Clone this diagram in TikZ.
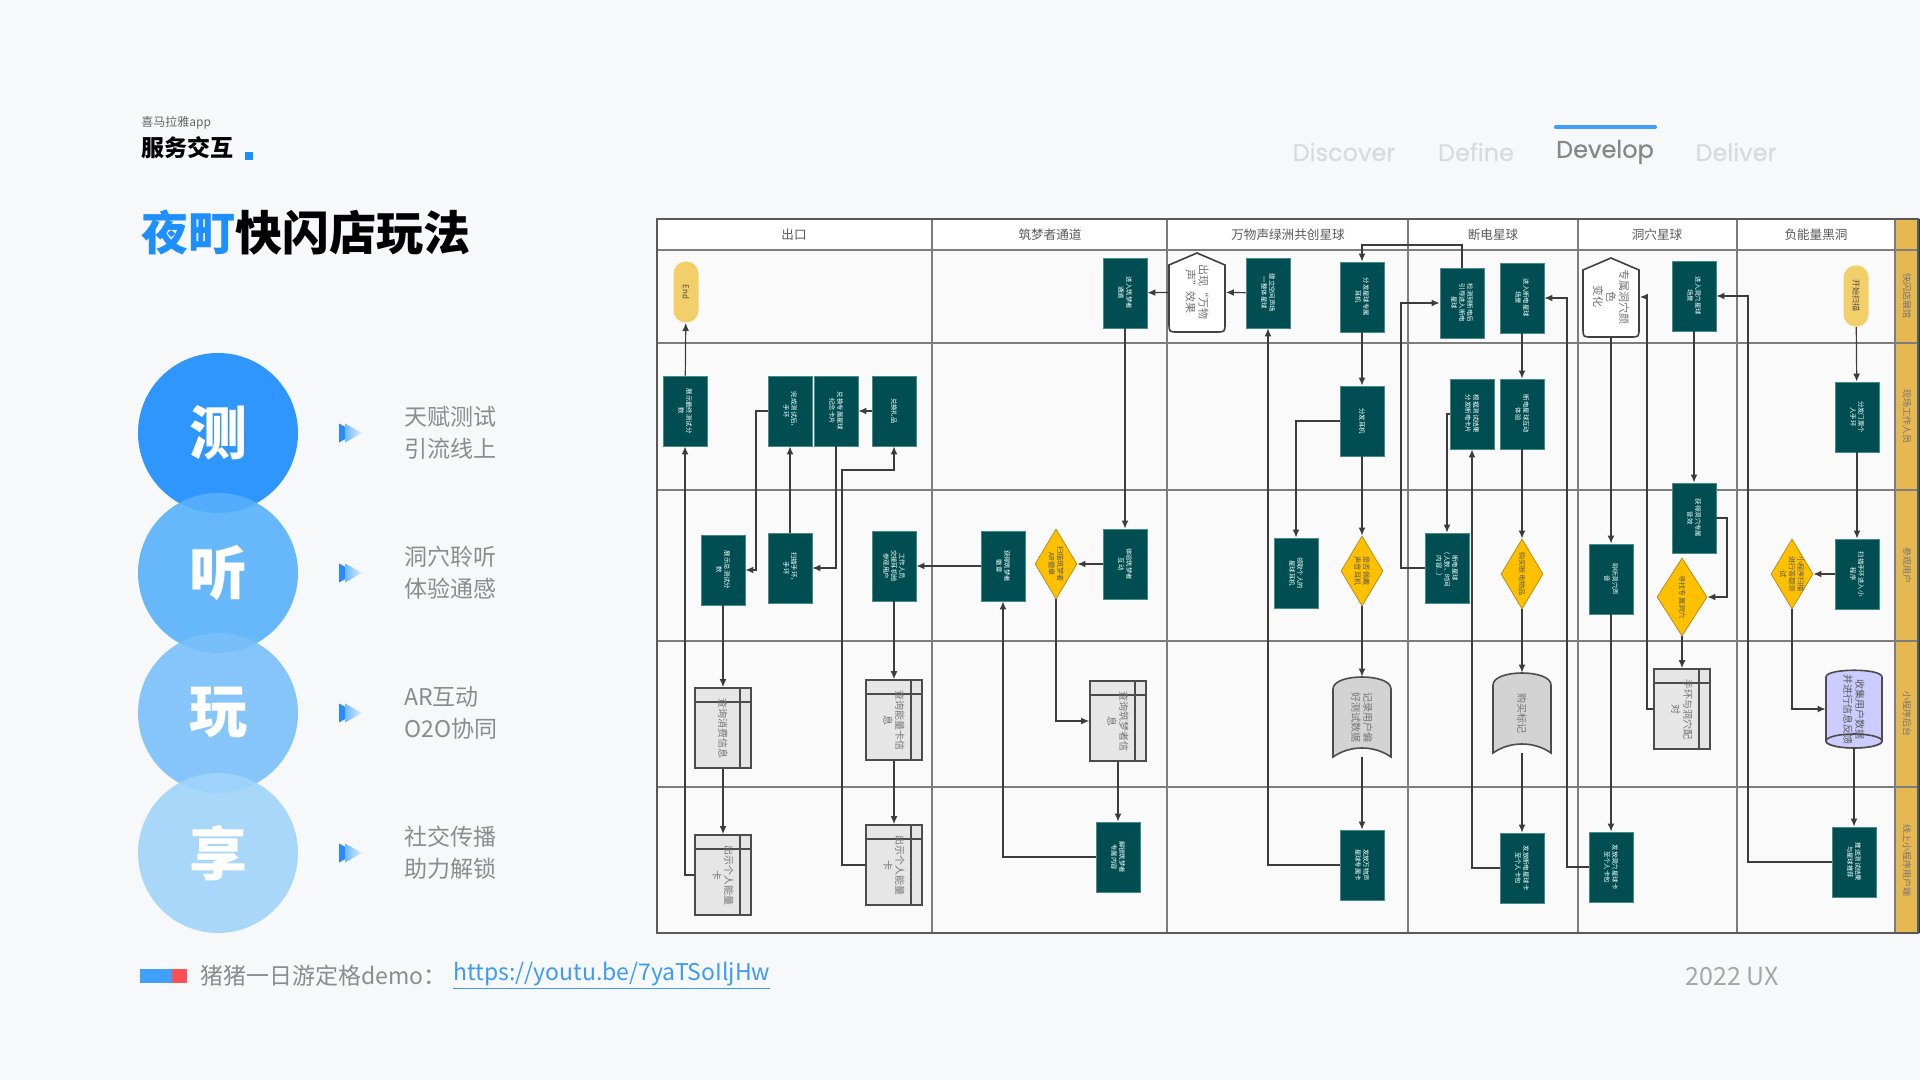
\documentclass[tikz,border=0pt]{standalone}
\usepackage{fontspec}
\setmainfont{Noto Sans CJK SC}
\newfontfamily\navfont{Poppins}[FakeBold=0.6]
\usetikzlibrary{positioning, arrows.meta, shapes.geometric}
\XeTeXlinebreaklocale "zh"
\XeTeXlinebreakskip=0pt plus 1pt

\definecolor{slidebg}{RGB}{247,248,250}
\definecolor{cellbg}{RGB}{250,250,250}
\definecolor{gridgray}{RGB}{125,125,125}
\definecolor{arrowgray}{RGB}{60,60,60}
\definecolor{tealfill}{RGB}{1,78,82}
\definecolor{tealedge}{RGB}{70,140,140}
\definecolor{diafill}{RGB}{255,192,0}
\definecolor{diaedge}{RGB}{185,140,30}
\definecolor{termfill}{RGB}{242,207,105}
\definecolor{cardfill}{RGB}{230,230,230}
\definecolor{docfill}{RGB}{211,211,211}
\definecolor{cylfill}{RGB}{204,204,255}
\definecolor{bandfill}{RGB}{229,184,82}
\definecolor{titleblue}{RGB}{30,143,255}
\definecolor{dotblue}{RGB}{24,144,255}
\definecolor{navlight}{RGB}{218,218,220}
\definecolor{navdark}{RGB}{135,135,135}
\definecolor{navbar}{RGB}{64,158,248}
\definecolor{descgray}{RGB}{140,140,140}
\definecolor{linkblue}{RGB}{61,155,245}
\definecolor{barblue}{RGB}{64,160,250}
\definecolor{barred}{RGB}{250,80,85}
\definecolor{circA}{RGB}{26,140,255}
\definecolor{circB}{RGB}{88,176,252}
\definecolor{circC}{RGB}{122,192,250}
\definecolor{circD}{RGB}{160,212,251}
\definecolor{triA}{RGB}{40,140,250}
\definecolor{triB}{RGB}{110,185,252}

% rotated text inside the flow shapes
\newcommand{\vtxt}[2]{\rotatebox{-90}{\parbox{#1}{\centering #2}}}
% loop limit, document and database outlines
\newcommand{\hexat}[2]{\draw[hexline] ({#1-28},{#2-27}) -- (#1,{#2-39}) -- ({#1+28},{#2-27}) -- ({#1+28},{#2+31}) .. controls ({#1+28},{#2+40}) .. ({#1+19},{#2+40}) -- ({#1-19},{#2+40}) .. controls ({#1-28},{#2+40}) .. ({#1-28},{#2+31}) -- cycle;}
\newcommand{\docat}[2]{\draw[docline] ({#1-29},{#2+40}) -- ({#1-29},{#2-28}) .. controls ({#1-29},{#2-44}) and ({#1+29},{#2-44}) .. ({#1+29},{#2-28}) -- ({#1+29},{#2+40}) .. controls ({#1+12},{#2+28}) and ({#1-12},{#2+28}) .. ({#1-29},{#2+40}) -- cycle;}
\newcommand{\cylat}[2]{\draw[cylline] ({#1-28},{#2+32}) -- ({#1-28},{#2-32}) .. controls ({#1-28},{#2-41}) and ({#1+28},{#2-41}) .. ({#1+28},{#2-32}) -- ({#1+28},{#2+32}) .. controls ({#1+28},{#2+41}) and ({#1-28},{#2+41}) .. cycle;
  \draw[cylline] (#1,{#2+32}) ellipse [x radius=28, y radius=7];}

\begin{document}
\begin{tikzpicture}[x=0.5pt, y=-0.5pt, >={Latex[length=4pt,width=3.4pt]},
    flow/.style = {->, draw=arrowgray, line width=0.6pt},
    grid/.style = {draw=gridgray, line width=0.7pt},
    tealbox/.style = {rectangle, draw=tealedge, line width=0.4pt, fill=tealfill, text=white, minimum width=22pt, minimum height=35pt, inner sep=0pt, font=\fontsize{3.2}{4}\selectfont},
    term/.style = {rectangle, rounded corners=6pt, fill=termfill, text=black!70, minimum width=12.5pt, minimum height=30.5pt, inner sep=0pt, font=\fontsize{4}{5}\selectfont},
    dia/.style = {diamond, draw=diaedge, line width=0.4pt, fill=diafill, minimum width=21pt, minimum height=35pt, inner sep=0pt},
    diatext/.style = {text=black!65, font=\fontsize{3.6}{4.4}\selectfont, inner sep=0pt},
    card/.style = {rectangle, draw=black!70, line width=0.8pt, fill=cardfill, text=black!55, minimum width=28pt, minimum height=40pt, inner sep=0pt, font=\fontsize{5}{6}\selectfont,
        path picture={\draw[black!70, line width=0.8pt] ([yshift=-7pt]path picture bounding box.north west) -- ([yshift=-7pt]path picture bounding box.north east);
        \draw[black!70, line width=0.8pt] ([xshift=-5.5pt]path picture bounding box.north east) -- ([xshift=-5.5pt]path picture bounding box.south east);}},
    shapenode/.style = {rectangle, minimum width=28pt, minimum height=40pt, inner sep=0pt, text=black!55, font=\fontsize{5}{6}\selectfont},
    hexline/.style = {draw=black!75, line width=0.8pt, fill=white},
    docline/.style = {draw=black!70, line width=0.8pt, fill=docfill},
    cylline/.style = {draw=black!70, line width=0.8pt, fill=cylfill},
    lanehead/.style = {text=black!65, font=\fontsize{6.3}{7}\selectfont},
    sidehead/.style = {text=black!55, font=\fontsize{4.5}{5}\selectfont, inner sep=0pt},
    bubble/.style = {circle, minimum size=80pt, inner sep=0pt, fill opacity=0.9, text opacity=1, text=white, font=\bfseries\fontsize{29}{30}\selectfont},
    desc/.style = {anchor=west, align=left, inner sep=0pt, text=descgray, font=\fontsize{11.5}{16}\selectfont},
    nav/.style = {text=navlight, font=\navfont\fontsize{12}{14}\selectfont},
    ]
    \fill[slidebg] (0,0) rectangle (1920,1080);
    \useasboundingbox (0,0) rectangle (1920,1080);

    % header and title
    \node[anchor=west, inner sep=0pt, text=black!60, font=\fontsize{6}{7}\selectfont] (app) at (141,123) {喜马拉雅app};
    \node[anchor=west, inner sep=0pt, font=\bfseries\fontsize{11.5}{13}\selectfont] (svc) at (141,148) {服务交互};
    \fill[dotblue] (245,152) rectangle (253,160);
    \node[anchor=west, inner sep=0pt, font=\bfseries\fontsize{23.5}{26}\selectfont] (title) at (141,233) {\textcolor{titleblue}{夜町}快闪店玩法};

    \node[nav] (discover) at (1344,152) {Discover};
    \node[nav] (define) at (1476,152) {Define};
    \node[nav, text=navdark] (develop) at (1605,152) {Develop};
    \node[nav] (deliver) at (1736,152) {Deliver};
    \draw[navbar, line width=2pt, line cap=round] (1556,127) -- (1655,127);

    % four steps
    \foreach \cy/\ch/\col/\la/\lb [count=\i] in {433/测/circA/天赋测试/引流线上, 573/听/circB/洞穴聆听/体验通感, 713/玩/circC/AR互动/O2O协同, 853/享/circD/社交传播/助力解锁} {
        \node[bubble, fill=\col] (bub\i) at (218,\cy) {\ch};
        \fill[triA] (339,{\cy-9.5}) -- (356,\cy) -- (339,{\cy+9.5}) -- cycle;
        \shade[left color=triB, right color=triB!25] (345,{\cy-9.5}) -- (362,\cy) -- (345,{\cy+9.5}) -- cycle;
        \node[desc] (desc\i) at (404,\cy) {\la\\\lb};
    }

    % footer
    \fill[barblue] (140,969) rectangle (172,983);
    \fill[barred] (172,969) rectangle (187,983);
    \node[anchor=west, inner sep=0pt, text=descgray, font=\fontsize{11.5}{13}\selectfont] (demo) at (200,976) {猪猪一日游定格demo：};
    \node[anchor=west, inner sep=0pt, text=linkblue, font=\fontsize{11.5}{13}\selectfont] (link) at (453,976) {\underline{https://youtu.be/7yaTSoIljHw}};
    \node[anchor=east, inner sep=0pt, text=black!35, font=\fontsize{12.5}{14}\selectfont] (year) at (1779,976) {2022 UX};

    % swimlane frame
    \fill[cellbg] (657,219) rectangle (1895,933);
    \fill[white] (657,219) rectangle (1895,250);
    \fill[bandfill] (1895,219) rectangle (1918,933);
    \fill[tealfill] (1918,219) rectangle (1920,933);
    \foreach \yy in {250,343,490,641,787} \draw[grid] (657,\yy) -- (1918,\yy);
    \foreach \xx in {932,1167,1408,1578,1737,1895} \draw[grid] (\xx,219) -- (\xx,933);
    \draw[grid, draw=black!65] (657,219) rectangle (1918,933);
    \foreach \cx/\txt [count=\i] in {794/出口, 1050/筑梦者通道, 1288/万物声绿洲共创星球, 1493/断电星球, 1657/洞穴星球, 1816/负能量黑洞}
        \node[lanehead] (lane\i) at (\cx,235) {\txt};
    \foreach \cy/\txt [count=\i] in {296/快闪店展馆, 416/现场工作人员, 565/参观用户, 714/小程序后台, 860/线上小程序用户端}
        \node[sidehead] (side\i) at (1907,\cy) {\rotatebox{-90}{\txt}};

    % outlines drawn under their text nodes
    \hexat{1197}{292}
    \hexat{1611}{297}
    \docat{1362}{717}
    \docat{1522}{713}
    \cylat{1854}{709}

    % row 1
    \node[term] (end) at (686,292) {\vtxt{26pt}{End}};
    \node[tealbox] (entzm) at (1125,293) {\vtxt{30pt}{进入筑梦者\\通道}};
    \node[shapenode, minimum width=28.5pt, font=\fontsize{5.5}{6.5}\selectfont] (wanwu) at (1197,292) {\vtxt{30pt}{出现“万物\\声”效果}};
    \node[tealbox] (jianli) at (1268,293) {\vtxt{30pt}{建立空间声场\\一整体星球}};
    \node[tealbox] (fenfa) at (1362,297) {\vtxt{30pt}{分发星球专属\\耳机}};
    \node[tealbox] (jiance) at (1462,303) {\vtxt{30pt}{检测到断电后\\引导进入断电\\星球}};
    \node[tealbox] (entdd) at (1522,298) {\vtxt{30pt}{进入断电星球\\场景}};
    \node[shapenode, minimum width=28.5pt, font=\fontsize{5.5}{6.5}\selectfont] (dxhex) at (1611,297) {\vtxt{30pt}{专属洞穴颜色\\变化}};
    \node[tealbox] (entdx) at (1694,296) {\vtxt{30pt}{进入洞穴星球\\场景}};
    \node[term] (start) at (1856,296) {\vtxt{26pt}{开始扫描}};

    % row 2
    \node[tealbox] (r2a) at (685,411) {\vtxt{30pt}{展示最终测试分\\数}};
    \node[tealbox] (r2b) at (790,411) {\vtxt{30pt}{完成测试后，\\手环}};
    \node[tealbox] (r2c) at (836,411) {\vtxt{30pt}{兑换专属星球\\纪念卡片}};
    \node[tealbox] (r2d) at (894,411) {\vtxt{30pt}{兑换礼品}};
    \node[tealbox] (erji) at (1362,421) {\vtxt{30pt}{分发耳机}};
    \node[tealbox] (ddka) at (1472,414) {\vtxt{30pt}{根据测试结果\\分发断电卡片}};
    \node[tealbox] (ddty) at (1522,414) {\vtxt{30pt}{断电星球互动\\体验}};
    \node[tealbox] (menpiao) at (1857,417) {\vtxt{30pt}{分发门票个\\人手环}};
    \node[tealbox] (dxsy) at (1694,518) {\vtxt{30pt}{获得洞穴专属\\音效}};

    % row 3
    \node[tealbox] (r3e) at (723,570) {\vtxt{30pt}{展示总测试分\\数}};
    \node[tealbox] (r3f) at (790,568) {\vtxt{30pt}{扫描手环，\\手环}};
    \node[tealbox] (r3g) at (894,566) {\vtxt{30pt}{工作人员\\交接耳机给\\参观用户}};
    \node[tealbox] (r3h) at (1003,566) {\vtxt{30pt}{获得筑梦者\\徽章}};
    \node[dia, label={[diatext]center:\vtxt{24pt}{扫描筑梦者\\AR徽章}}] (dmI) at (1056,564) {};
    \node[tealbox] (r3j) at (1125,564) {\vtxt{30pt}{体验筑梦者\\互动}};
    \node[tealbox] (r3k) at (1296,573) {\vtxt{30pt}{领取个人的\\星球耳机}};
    \node[dia, label={[diatext]center:\vtxt{24pt}{是否佩戴\\声音耳机}}] (dmL) at (1362,571) {};
    \node[tealbox] (r3m) at (1447,568) {\vtxt{30pt}{断电星球\\（人数、时间\\内容...）}};
    \node[dia, label={[diatext]center:\vtxt{24pt}{购买断电物品}}] (dmN) at (1522,574) {};
    \node[tealbox] (r3o) at (1611,579) {\vtxt{30pt}{聆听洞穴声\\音}};
    \node[dia, minimum width=25pt, minimum height=39pt, label={[diatext]center:\vtxt{26pt}{寻找专属洞穴}}] (dmP) at (1682,597) {};
    \node[dia, label={[diatext]center:\vtxt{24pt}{小程序扫描\\进行答题测\\试}}] (dmQ) at (1792,574) {};
    \node[tealbox] (r3r) at (1857,574) {\vtxt{30pt}{扫描手环进入小\\程序}};

    % row 4
    \node[card] (r4s) at (723,728) {\vtxt{32pt}{查询消费信息}};
    \node[card] (r4t) at (894,720) {\vtxt{32pt}{查询能量卡信\\息}};
    \node[card] (r4u) at (1118,721) {\vtxt{32pt}{查询筑梦者信\\息}};
    \node[shapenode, minimum width=29pt] (docV) at (1362,717) {\vtxt{32pt}{记录用户偏\\好测试数据}};
    \node[shapenode, minimum width=29pt] (docW) at (1522,713) {\vtxt{32pt}{购买标记}};
    \node[card] (r4x) at (1682,709) {\vtxt{32pt}{手环与洞穴配\\对}};
    \node[shapenode, minimum height=39pt, text=black!65] (cylY) at (1854,709) {\vtxt{36pt}{收集用户数据\\并进行信息反馈}};

    % row 5
    \node[card] (r5a) at (723,875) {\vtxt{32pt}{出示个人能量\\卡}};
    \node[card] (r5b) at (894,865) {\vtxt{32pt}{出示个人能量\\卡}};
    \node[tealbox] (r5c) at (1118,857) {\vtxt{30pt}{解锁筑梦者\\专属内容}};
    \node[tealbox] (r5d) at (1362,865) {\vtxt{30pt}{发放万物声\\星球专属卡}};
    \node[tealbox] (r5e) at (1522,868) {\vtxt{30pt}{发放断电星球卡\\至个人卡包}};
    \node[tealbox] (r5f) at (1611,867) {\vtxt{30pt}{发放洞穴星球卡\\至个人卡包}};
    \node[tealbox] (r5g) at (1854,862) {\vtxt{30pt}{推送测试结果\\与星球推荐}};

    % bends of the long return lines
    \coordinate (b6) at (1748,600);
    \coordinate (b8) at (1727,560);
    \coordinate (b10) at (1647,500);
    \coordinate (b13) at (1567,600);
    \coordinate (b20) at (1401,450);
    \coordinate (b21) at (1400,245);
    \coordinate (b38) at (842,470);
    \coordinate (b42) at (756,490);

    \draw[flow] (start) -- (menpiao);
    \draw[flow] (menpiao) -- (r3r);
    \draw[flow] (r3r) -- (dmQ);
    \draw[flow] (dmQ) |- (cylY);
    \draw[flow] (cylY) -- (r5g);
    \draw[flow] (r5g) -| (b6) |- (entdx);
    \draw[flow] (entdx) -- (dxsy);
    \draw[flow] (dxsy) -| (b8) |- (dmP);
    \draw[flow] (dmP) -- (r4x);
    \draw[flow] (r4x) -| (b10) |- (dxhex);
    \draw[flow] (dxhex) -- (r3o);
    \draw[flow] (r3o) -- (r5f);
    \draw[flow] (r5f) -| (b13) |- (entdd);
    \draw[flow] (entdd) -- (ddty);
    \draw[flow] (ddty) -- (dmN);
    \draw[flow] (dmN) -- (docW);
    \draw[flow] (docW) -- (r5e);
    \draw[flow] (r5e) -| (ddka);
    \draw[flow] (ddka) -| (r3m);
    \draw[flow] (r3m) -| (b20) |- (jiance);
    \draw[flow] (jiance) |- (b21) -| (fenfa);
    \draw[flow] (fenfa) -- (erji);
    \draw[flow] (erji) -- (dmL);
    \draw[flow] (erji) -| (r3k);
    \draw[flow] (dmL) -- (docV);
    \draw[flow] (docV) -- (r5d);
    \draw[flow] (r5d) -| (jianli);
    \draw[flow] (jianli) -- (wanwu);
    \draw[flow] (wanwu) -- (entzm);
    \draw[flow] (entzm) -- (r3j);
    \draw[flow] (r3j) -- (dmI);
    \draw[flow] (dmI) |- (r4u);
    \draw[flow] (r4u) -- (r5c);
    \draw[flow] (r5c) -| (r3h);
    \draw[flow] (r3h) -- (r3g);
    \draw[flow] (r3g) -- (r4t);
    \draw[flow] (r4t) -- (r5b);
    \draw[flow] (r5b) -| (b38) -| (r2d);
    \draw[flow] (r2d) -- (r2c);
    \draw[flow] (r2c) |- (r3f);
    \draw[flow] (r3f) -- (r2b);
    \draw[flow] (r2b) -| (b42) |- (r3e);
    \draw[flow] (r3e) -- (r4s);
    \draw[flow] (r4s) -- (r5a);
    \draw[flow] (r5a) -| (r2a);
    \draw[flow] (r2a) -- (end);
\end{tikzpicture}
\end{document}
